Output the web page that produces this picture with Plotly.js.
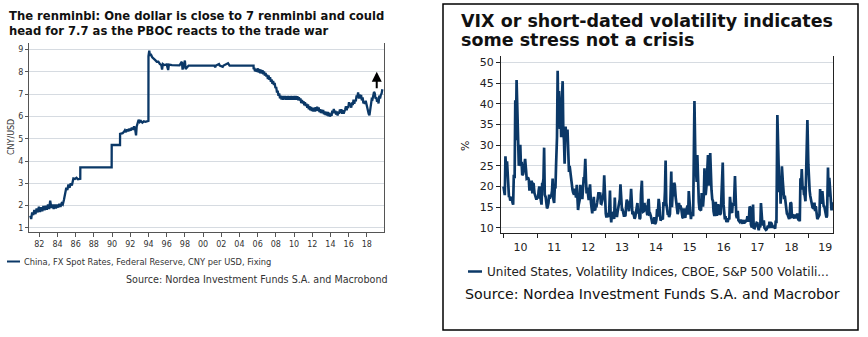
<!DOCTYPE html>
<html>
<head>
<meta charset="utf-8">
<script src="https://cdn.plot.ly/plotly-3.0.1.min.js"></script>
<style>html,body{margin:0;padding:0;background:#fff;}#chart{width:868px;height:337px;}</style>
</head>
<body>
<div id="chart"></div>
<script>
// ---------------- CNY per USD (left panel) ----------------
const cnyEarlyDates = [
'1981-01-05','1981-02-10','1981-03-20','1981-05-01','1981-06-15','1981-08-01','1981-09-15','1981-11-01','1981-12-15',
'1982-02-01','1982-03-15','1982-05-01','1982-06-15','1982-08-01','1982-09-15','1982-11-01','1982-12-15',
'1983-02-01','1983-03-15','1983-05-01','1983-06-15','1983-08-01','1983-09-15','1983-11-01','1983-12-15',
'1984-02-01','1984-03-15','1984-05-01','1984-06-15','1984-08-01','1984-09-15','1984-10-20','1984-11-20','1984-12-20',
'1985-02-01','1985-03-15','1985-05-01','1985-06-15','1985-08-01','1985-09-01','1985-10-01','1985-12-01',
'1986-02-01','1986-04-01','1986-07-04','1986-07-06',
'1989-12-15','1989-12-17','1990-11-16','1990-11-18',
'1991-03-01','1991-04-15','1991-06-01','1991-07-15','1991-09-01','1991-10-15','1991-12-01',
'1992-01-15','1992-03-01','1992-04-15','1992-06-01','1992-07-15','1992-08-20','1992-09-15','1992-10-20','1992-12-01',
'1993-01-15','1993-03-01','1993-05-01','1993-07-01','1993-09-01','1993-12-30',
'1994-01-01','1994-02-01','1994-03-01','1994-04-01','1994-06-01','1994-08-01','1994-10-01','1994-12-01',
'1995-02-01','1995-04-01','1995-06-01','1995-07-01','1995-08-01','1995-10-01',
'1996-01-01','1996-03-01','1996-04-01','1996-08-01',
'1997-01-01','1997-06-01','1997-09-01','1997-10-01','1997-11-15','1998-01-01','1998-02-01','1998-06-01',
'1999-06-01','2001-04-01','2001-05-01','2001-06-01','2001-10-01','2001-11-01','2002-03-01','2002-04-01','2002-10-01','2002-11-01','2002-12-01',
'2005-07-20','2005-07-22'
];
const cnyEarlyValues = [
1.55,1.40,1.70,1.58,1.80,1.62,1.88,1.70,1.95,
1.72,1.93,1.75,1.98,1.80,2.00,1.82,2.05,
1.85,2.22,1.90,2.05,1.85,2.05,1.88,2.05,
1.92,2.08,1.95,2.10,2.05,2.25,2.45,2.62,2.80,
2.70,2.95,2.80,3.00,2.90,3.10,3.22,3.20,
3.25,3.18,3.20,3.72,
3.72,4.72,4.72,5.22,
5.25,5.30,5.38,5.30,5.42,5.34,5.45,
5.36,5.50,5.40,5.55,5.42,5.15,5.55,5.70,5.85,
5.75,5.80,5.72,5.78,5.76,5.80,
8.70,8.95,8.72,8.80,8.65,8.60,8.52,8.45,
8.45,8.35,8.30,8.10,8.35,8.30,
8.33,8.08,8.32,8.30,
8.30,8.29,8.45,8.10,8.28,8.50,8.12,8.28,
8.28,8.28,8.20,8.28,8.35,8.28,8.22,8.28,8.38,8.28,8.28,
8.28,8.11
];
// Monthly readings after the July 2005 reform (Aug 2005 .. Sep 2019)
const cnyFloat2005 = [8.18,8.02,8.14,8.00,8.13];
const cnyFloat2006 = [8.15,7.97,8.11,7.93,8.09,7.92,8.07,7.89,8.02,7.83,7.95,7.79];
const cnyFloat2007 = [7.87,7.67,7.84,7.64,7.76,7.55,7.66,7.46,7.59,7.41,7.50,7.27];
const cnyFloat2008 = [7.32,7.07,7.15,6.92,7.03,6.81,6.93,6.76,6.91,6.75,6.92,6.76];
const cnyFloat2009 = [6.92,6.75,6.91,6.75,6.92,6.74,6.91,6.75,6.92,6.75,6.91,6.75];
const cnyFloat2010 = [6.92,6.75,6.91,6.75,6.91,6.72,6.86,6.71,6.81,6.60,6.74,6.58];
const cnyFloat2011 = [6.68,6.50,6.64,6.47,6.57,6.39,6.54,6.32,6.46,6.28,6.42,6.24];
const cnyFloat2012 = [6.39,6.22,6.39,6.22,6.41,6.24,6.43,6.26,6.40,6.19,6.32,6.15];
const cnyFloat2013 = [6.30,6.14,6.29,6.10,6.22,6.06,6.21,6.04,6.20,6.01,6.17,5.99];
const cnyFloat2014 = [6.12,6.02,6.26,6.15,6.33,6.15,6.26,6.08,6.22,6.04,6.21,6.12];
const cnyFloat2015 = [6.31,6.16,6.32,6.12,6.28,6.13,6.29,6.32,6.45,6.27,6.46,6.37];
const cnyFloat2016 = [6.64,6.46,6.58,6.39,6.63,6.51,6.75,6.57,6.75,6.68,6.94,6.86];
const cnyFloat2017 = [7.08,6.80,6.98,6.80,6.96,6.72,6.85,6.59,6.64,6.56,6.70,6.51];
const cnyFloat2018 = [6.48,6.22,6.12,6.05,6.30,6.37,6.78,6.76,6.93,7.10,7.03,6.80];
const cnyFloat2019 = [6.86,6.65,6.79,6.58,6.93,6.80,6.96,7.02,7.22];

// ---------------- VIX (right panel), four readings per month ----------------
const vix2010 = [20.0,18.1,17.9,27.3, 22.6,26.1,22.7,20.1, 17.4,17.6,16.6,16.9, 17.5,16.1,15.6,22.8, 22.0,40.9,31.2,45.8, 35.5,34.5,25.0,28.5, 30.1,24.9,26.0,22.7, 23.0,24.1,25.5,26.7, 24.0,21.9,22.0,22.2, 21.6,19.0,19.9,19.7, 21.4,18.3,20.7,20.6, 18.4,17.6,17.5,16.8];
const vix2011 = [17.6,17.1,19.0,20.0, 17.6,16.3,15.6,20.8, 20.7,21.9,29.4,18.0, 17.4,16.0,14.7,15.0, 16.0,18.0,17.1,17.5, 17.9,18.9,21.9,17.0, 16.0,19.9,19.5,25.3, 32.0,48.0,36.3,43.1, 33.9,38.5,31.9,41.4, 45.5,33.0,31.3,25.5, 34.5,32.7,32.0,33.8, 27.8,23.5,25.0,23.4];
const vix2012 = [22.2,20.7,19.2,18.5, 18.0,19.5,17.8,17.3, 20.4,15.6,14.3,15.6, 16.7,20.4,18.6,17.2, 17.2,20.1,22.3,21.6, 26.7,21.7,18.3,19.7, 17.1,16.7,18.6,20.5, 16.1,14.7,13.5,15.4, 17.5,14.4,14.2,15.4, 15.3,16.2,17.1,18.6, 17.6,18.6,15.9,15.8, 16.6,17.2,18.4,22.7];
const vix2013 = [14.7,13.4,12.5,13.6, 12.9,12.6,14.7,19.0, 13.1,11.3,13.8,12.7, 13.9,12.1,17.3,13.6, 13.7,12.6,13.8,14.7, 16.3,17.0,20.5,16.9, 14.4,14.4,13.3,12.9, 12.9,13.0,15.1,16.8, 16.2,14.5,14.0,15.6, 16.6,19.4,13.5,13.3, 13.5,12.9,12.2,12.6, 14.0,15.5,16.0,13.5];
const vix2014 = [13.8,12.1,12.4,18.1, 21.4,15.7,13.9,14.0, 16.0,14.1,15.4,13.9, 13.0,16.0,17.0,13.3, 13.4,12.9,12.0,11.4, 11.6,11.0,12.6,10.9, 11.2,12.0,14.5,12.7, 17.0,15.8,13.2,11.7, 12.4,12.1,12.0,16.2, 15.3,18.8,26.3,16.1, 14.0,13.1,13.3,12.6, 13.3,20.0,23.6,15.0];
const vix2015 = [19.2,17.6,20.9,20.4, 17.3,16.0,14.0,13.3, 14.0,16.0,15.0,15.4, 14.7,12.6,12.5,12.3, 14.7,12.9,12.4,13.8, 14.7,15.4,13.2,18.9, 16.1,13.2,12.1,13.4, 13.4,12.8,28.0,40.7, 26.1,24.4,21.1,27.6, 17.1,16.2,14.5,14.3, 14.2,18.4,16.0,15.1, 17.8,24.4,18.0,18.2];
const vix2016 = [20.7,24.0,27.6,20.2, 21.8,28.1,20.5,19.1, 16.9,16.5,14.0,13.1, 13.1,16.3,13.2,13.2, 15.7,14.7,15.6,13.1, 13.5,17.0,18.5,25.8, 15.6,13.5,12.0,12.8, 11.4,11.7,11.4,12.3, 12.0,17.5,15.5,14.0, 13.6,16.1,15.3,16.2, 22.5,14.7,12.9,12.3, 14.1,11.8,11.4,11.4];
const vix2017 = [11.9,11.6,11.2,11.0, 11.9,11.0,11.5,11.5, 11.9,11.7,12.8,11.5, 12.4,15.1,14.9,10.8, 10.1,10.4,15.6,10.0, 9.9,10.4,10.9,11.2, 11.1,9.5,9.4,10.3, 10.1,16.0,13.2,11.3, 10.6,11.8,10.0,9.6, 9.5,9.6,10.1,10.5, 9.9,11.5,9.9,11.3, 11.0,10.2,10.0,10.5];
const vix2018 = [9.8,9.8,11.7,11.1, 37.3,29.1,19.5,18.6, 22.5,15.8,19.0,24.9, 21.1,18.5,16.9,17.8, 15.9,13.4,13.4,13.2, 12.2,12.1,13.8,16.1, 15.9,12.7,12.8,12.9, 12.2,13.2,12.6,12.3, 13.2,13.2,11.8,12.1, 11.6,22.0,20.1,24.2, 19.3,20.0,18.1,18.0, 16.4,23.0,25.6,36.1];
const vix2019 = [25.4,19.5,19.0,17.7, 16.1,15.6,14.9,14.8, 14.6,16.1,14.0,15.2, 13.4,12.1,12.4,12.7, 13.1,19.4,15.9,16.3, 18.9,15.3,15.3,15.2, 14.1,12.9,12.5,12.9, 24.6,17.5,22.1,19.9, 16.3,14.2,15.3,16.2];

// Text
const leftTitle1 = 'The renminbi: One dollar is close to 7 renminbi and could';
const leftTitle2 = 'head for 7.7 as the PBOC reacts to the trade war';
const leftLegend = 'China, FX Spot Rates, Federal Reserve, CNY per USD, Fixing';
const leftSource = 'Source: Nordea Investment Funds S.A. and Macrobond';
const leftYTitle = 'CNY/USD';
const rightTitle1 = 'VIX or short-dated volatility indicates';
const rightTitle2 = 'some stress not a crisis';
const rightLegend = 'United States, Volatility Indices, CBOE, S&amp;P 500 Volatili...';
const rightSource = 'Source: Nordea Investment Funds S.A. and Macrobor';
const rightYTitle = '%';

// ---------- assemble series ----------
function pad(n){return (n<10?'0':'')+n;}
const cnyX = cnyEarlyDates.slice(), cnyY = cnyEarlyValues.slice();
const floatYears = {2005:cnyFloat2005,2006:cnyFloat2006,2007:cnyFloat2007,2008:cnyFloat2008,2009:cnyFloat2009,2010:cnyFloat2010,2011:cnyFloat2011,2012:cnyFloat2012,2013:cnyFloat2013,2014:cnyFloat2014,2015:cnyFloat2015,2016:cnyFloat2016,2017:cnyFloat2017,2018:cnyFloat2018,2019:cnyFloat2019};
Object.keys(floatYears).forEach(function(yr){
  const arr = floatYears[yr];
  const startM = (yr==2005) ? 8 : 1;
  arr.forEach(function(v,i){ cnyX.push(yr+'-'+pad(startM+i)+'-15'); cnyY.push(v); });
});
const vixYears = {2010:vix2010,2011:vix2011,2012:vix2012,2013:vix2013,2014:vix2014,2015:vix2015,2016:vix2016,2017:vix2017,2018:vix2018,2019:vix2019};
const vixDays = [1,8,15,22];
const vixX = [], vixY = [];
Object.keys(vixYears).forEach(function(yr){
  vixYears[yr].forEach(function(v,i){
    const m = Math.floor(i/4)+1, d = vixDays[i%4];
    vixX.push(yr+'-'+pad(m)+'-'+pad(d)); vixY.push(v);
  });
});

const W = 868, H = 337;
function px(x){return x/W;}
function py(y){return 1-y/H;}
const NAVY = '#0b3867';
const GRID = '#d6dbe1';
const F = 'DejaVu Sans, Verdana, sans-serif';

const traces = [
  {x:cnyX, y:cnyY, xaxis:'x', yaxis:'y', type:'scatter', mode:'lines', line:{color:NAVY, width:2.3}, hoverinfo:'skip'},
  {x:vixX, y:vixY, xaxis:'x2', yaxis:'y2', type:'scatter', mode:'lines', line:{color:NAVY, width:2.7}, hoverinfo:'skip'}
];

const layout = {
  width:W, height:H, margin:{l:0,r:0,t:0,b:0},
  paper_bgcolor:'#ffffff', plot_bgcolor:'#ffffff', showlegend:false,
  font:{family:F, color:'#333'},
  xaxis:{type:'date', domain:[px(29),px(384)], range:['1980-11-14','2019-11-20'], anchor:'y',
    tickformat:'%y', dtick:'M24', tick0:'1982-01-01', ticks:'outside', ticklen:4, tickcolor:'#555',
    showline:true, linecolor:'#555', linewidth:1, showgrid:false, zeroline:false,
    tickfont:{family:F, size:8, color:'#333'}},
  yaxis:{domain:[py(232),py(43)], range:[0.82,9.29], anchor:'x', dtick:1, tick0:0,
    ticks:'outside', ticklen:3, tickcolor:'#555', showline:true, mirror:true, linecolor:'#555', linewidth:1,
    showgrid:true, gridcolor:GRID, gridwidth:1, zeroline:false,
    tickfont:{family:F, size:8, color:'#333'}},
  xaxis2:{type:'date', domain:[px(501),px(833)], range:['2009-12-05','2019-09-24'], anchor:'y2',
    tickformat:'%y', dtick:'M12', tick0:'2010-01-01', ticklabelmode:'period', ticks:'outside', ticklen:4, tickcolor:'#222',
    showline:true, linecolor:'#222', linewidth:1, showgrid:false, zeroline:false,
    tickfont:{family:F, size:11, color:'#222'}},
  yaxis2:{domain:[py(232.7),py(56)], range:[8.8,51.6], anchor:'x2', dtick:5, tick0:0,
    ticks:'outside', ticklen:4, tickcolor:'#222', showline:true, mirror:true, linecolor:'#222', linewidth:1,
    showgrid:true, gridcolor:GRID, gridwidth:1, zeroline:false,
    tickfont:{family:F, size:11, color:'#222'}},
  shapes:[
    {type:'rect', xref:'paper', yref:'paper', x0:px(443), x1:px(858), y0:py(330), y1:py(4), line:{color:'#000', width:1.5}},
    {type:'line', xref:'paper', yref:'paper', x0:px(7), x1:px(20), y0:py(261.5), y1:py(261.5), line:{color:NAVY, width:2}},
    {type:'line', xref:'paper', yref:'paper', x0:px(468), x1:px(482), y0:py(271.5), y1:py(271.5), line:{color:NAVY, width:2.5}}
  ],
  annotations:[
    {xref:'paper', yref:'paper', x:px(7), y:py(16.5), xanchor:'left', yanchor:'middle', showarrow:false,
      text:'<b>'+leftTitle1+'</b>', font:{family:F, size:11.6, color:'#111'}},
    {xref:'paper', yref:'paper', x:px(7), y:py(31.5), xanchor:'left', yanchor:'middle', showarrow:false,
      text:'<b>'+leftTitle2+'</b>', font:{family:F, size:11.6, color:'#111'}},
    {xref:'paper', yref:'paper', x:px(12), y:py(137), xanchor:'center', yanchor:'middle', showarrow:false, textangle:-90,
      text:leftYTitle, font:{family:F, size:8, color:'#333'}},
    {xref:'paper', yref:'paper', x:px(22), y:py(261.5), xanchor:'left', yanchor:'middle', showarrow:false,
      text:leftLegend, font:{family:F, size:8.3, color:'#333'}},
    {xref:'paper', yref:'paper', x:px(390), y:py(279), xanchor:'right', yanchor:'middle', showarrow:false,
      text:leftSource, font:{family:F, size:9.6, color:'#333'}},
    {xref:'x', yref:'y', x:'2019-02-01', y:8.0, ax:'2019-02-01', ay:7.2, axref:'x', ayref:'y',
      showarrow:true, arrowhead:2, arrowsize:1, arrowwidth:2, arrowcolor:'#000', text:''},
    {xref:'paper', yref:'paper', x:px(459), y:py(21), xanchor:'left', yanchor:'middle', showarrow:false,
      text:'<b>'+rightTitle1+'</b>', font:{family:F, size:17.5, color:'#111'}},
    {xref:'paper', yref:'paper', x:px(459), y:py(40), xanchor:'left', yanchor:'middle', showarrow:false,
      text:'<b>'+rightTitle2+'</b>', font:{family:F, size:17.5, color:'#111'}},
    {xref:'paper', yref:'paper', x:px(465), y:py(146), xanchor:'center', yanchor:'middle', showarrow:false, textangle:-90,
      text:rightYTitle, font:{family:F, size:11, color:'#222'}},
    {xref:'paper', yref:'paper', x:px(485), y:py(271.5), xanchor:'left', yanchor:'middle', showarrow:false,
      text:rightLegend, font:{family:F, size:12, color:'#222'}},
    {xref:'paper', yref:'paper', x:px(462.5), y:py(294), xanchor:'left', yanchor:'middle', showarrow:false,
      text:rightSource, font:{family:F, size:14.2, color:'#111'}}
  ]
};

Plotly.newPlot('chart', traces, layout, {staticPlot:true, displayModeBar:false});
</script>
</body>
</html>
